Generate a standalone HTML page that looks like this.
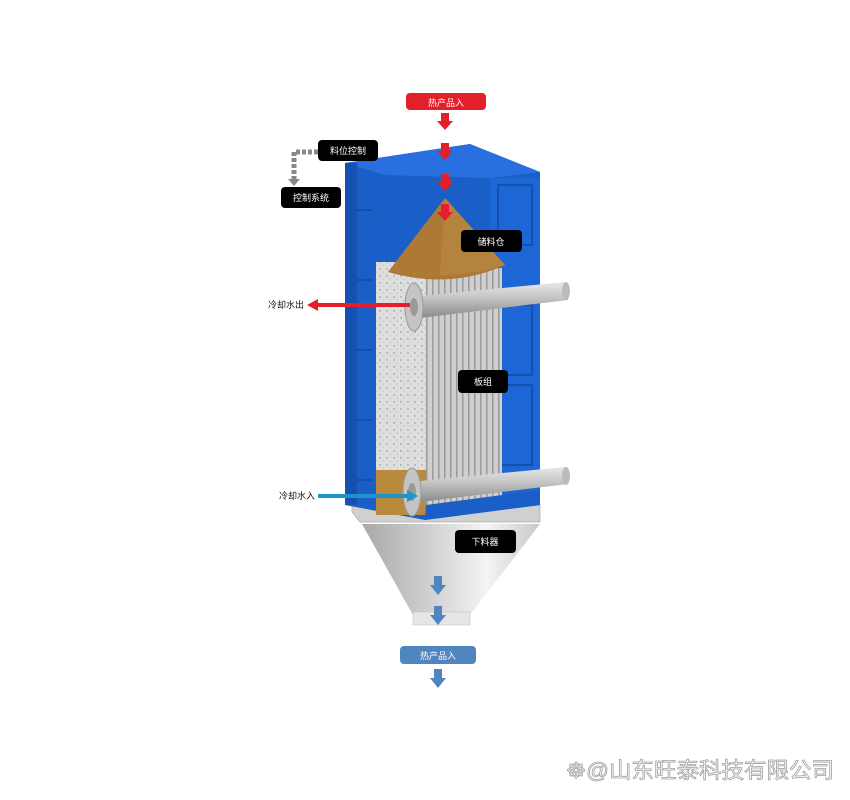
<!DOCTYPE html>
<html><head><meta charset="utf-8"><style>
html,body{margin:0;padding:0;background:#fff;width:850px;height:800px;overflow:hidden}
svg{display:block}
text{font-family:"Liberation Sans","Noto Sans CJK SC",sans-serif}
</style></head><body>
<svg width="850" height="800" viewBox="0 0 850 800" xmlns="http://www.w3.org/2000/svg">
<defs>
<linearGradient id="pipe" x1="0" y1="0" x2="0" y2="1"><stop offset="0" stop-color="#e8e8e8"/><stop offset="0.4" stop-color="#c8c8c8"/><stop offset="1" stop-color="#8a8a8a"/></linearGradient>
<linearGradient id="hop" x1="0" y1="0" x2="1" y2="0"><stop offset="0" stop-color="#a8a8a8"/><stop offset="0.45" stop-color="#d8d8d8"/><stop offset="0.7" stop-color="#f4f4f4"/><stop offset="1" stop-color="#c8c8c8"/></linearGradient>
<pattern id="strips" width="6" height="10" patternUnits="userSpaceOnUse"><rect width="6" height="10" fill="#cfcfcf"/><rect width="1.5" height="10" fill="#9a9a9a"/></pattern>
<pattern id="dots" width="7" height="7" patternUnits="userSpaceOnUse"><rect width="7" height="7" fill="#dedede"/><circle cx="2" cy="3" r="0.7" fill="#888"/><circle cx="5" cy="6" r="0.5" fill="#999"/></pattern>
</defs>
<polygon points="362,524 540,524 470,615 413,615" fill="url(#hop)"/>
<rect x="413" y="612" width="57" height="13" fill="#e6e6e6" stroke="#bbb" stroke-width="0.5"/>
<polygon points="352,500 540,505 540,522 360,522 352,512" fill="#d0d0d0" stroke="#aaa" stroke-width="0.7"/>
<polygon points="345,163 470,144 540,172 540,505 425,520 345,505" fill="#1a5fc8"/>
<polygon points="345,163 470,144 540,172 490,178 385,175" fill="#2a6fe0"/>
<rect x="345" y="163" width="12" height="342" fill="#1650b0"/>
<rect x="490" y="178" width="50" height="320" fill="#1d66d6"/>
<g stroke="#134a9e" stroke-width="1.5" fill="none">
<rect x="498" y="185" width="34" height="60"/><rect x="498" y="305" width="34" height="70"/><rect x="498" y="385" width="34" height="80"/>
<line x1="357" y1="210" x2="372" y2="210"/><line x1="357" y1="280" x2="372" y2="280"/><line x1="357" y1="350" x2="372" y2="350"/><line x1="357" y1="420" x2="372" y2="420"/><line x1="357" y1="480" x2="372" y2="480"/>
</g>
<rect x="376" y="262" width="50" height="253" fill="url(#dots)"/>
<rect x="376" y="470" width="50" height="45" fill="#b98a3c"/>
<rect x="426" y="268" width="76" height="240" fill="url(#strips)"/>
<polygon points="426,505 540,490 540,505 425,520" fill="#1a5fc8"/>
<path d="M445,198 L505,265 Q450,290 388,272 Z" fill="#ad7a36"/>
<path d="M445,198 L505,265 Q470,275 440,275 Z" fill="#b98b45" opacity="0.6"/>
<polygon points="420,296 565,282 568,300 420,318" fill="url(#pipe)"/>
<ellipse cx="566" cy="291" rx="4" ry="9" fill="#bbb"/>
<ellipse cx="414" cy="307" rx="9" ry="24" fill="#c4c4c4" stroke="#999"/>
<ellipse cx="414" cy="307" rx="4" ry="9" fill="#999"/>
<polygon points="420,481 565,467 568,484 420,502" fill="url(#pipe)"/>
<ellipse cx="566" cy="476" rx="4" ry="9" fill="#bbb"/>
<ellipse cx="412" cy="492" rx="9" ry="24" fill="#c4c4c4" stroke="#999"/>
<ellipse cx="412" cy="492" rx="4" ry="9" fill="#999"/>
<g fill="#e3202a">
<rect x="406" y="93" width="80" height="17" rx="4"/>
<polygon points="441,113 449,113 449,121 453,121 445,130 437,121 441,121"/>
<polygon points="441,143 449,143 449,151 453,151 445,160 437,151 441,151"/>
<polygon points="441,174 449,174 449,182 453,182 445,191 437,182 441,182"/>
<polygon points="441,204 449,204 449,212 453,212 445,221 437,212 441,212"/>
<polygon points="410,303 318,303 318,299 307,305 318,311 318,307 410,307"/>
</g>
<text x="446" y="106" font-size="9" fill="#fff" text-anchor="middle">热产品入</text>
<polygon points="318,494 407,494 407,490 418,496 407,502 407,498 318,498" fill="#1f94cc"/>
<text x="279" y="499" font-size="9" fill="#111">冷却水入</text>
<text x="268" y="308" font-size="9" fill="#111">冷却水出</text>
<path d="M318,152 H294 V180" stroke="#888" stroke-width="5" fill="none" stroke-dasharray="4,2"/>
<polygon points="288,179 300,179 294,186" fill="#888"/>
<g fill="#000">
<rect x="318" y="140" width="60" height="21" rx="4"/>
<rect x="281" y="187" width="60" height="21" rx="4"/>
<rect x="461" y="230" width="61" height="22" rx="4"/>
<rect x="458" y="370" width="50" height="23" rx="4"/>
<rect x="455" y="530" width="61" height="23" rx="4"/>
</g>
<g fill="#fff" font-size="9" text-anchor="middle">
<text x="348" y="154">料位控制</text>
<text x="311" y="201">控制系统</text>
<text x="491" y="245">储料仓</text>
<text x="483" y="385">板组</text>
<text x="485" y="545">下料器</text>
</g>
<g fill="#4f86c0">
<polygon points="434,576 442,576 442,585 446,585 438,595 430,585 434,585"/>
<polygon points="434,606 442,606 442,615 446,615 438,625 430,615 434,615"/>
<rect x="400" y="646" width="76" height="18" rx="4"/>
<polygon points="434,669 442,669 442,678 446,678 438,688 430,678 434,678"/>
</g>
<text x="438" y="659" font-size="9" fill="#fff" text-anchor="middle">热产品入</text>
<text x="566" y="778" font-size="22" fill="#fff" stroke="#a0a0a0" stroke-width="0.8" textLength="268" lengthAdjust="spacingAndGlyphs">☸@山东旺泰科技有限公司</text>
</svg>
</body></html>
